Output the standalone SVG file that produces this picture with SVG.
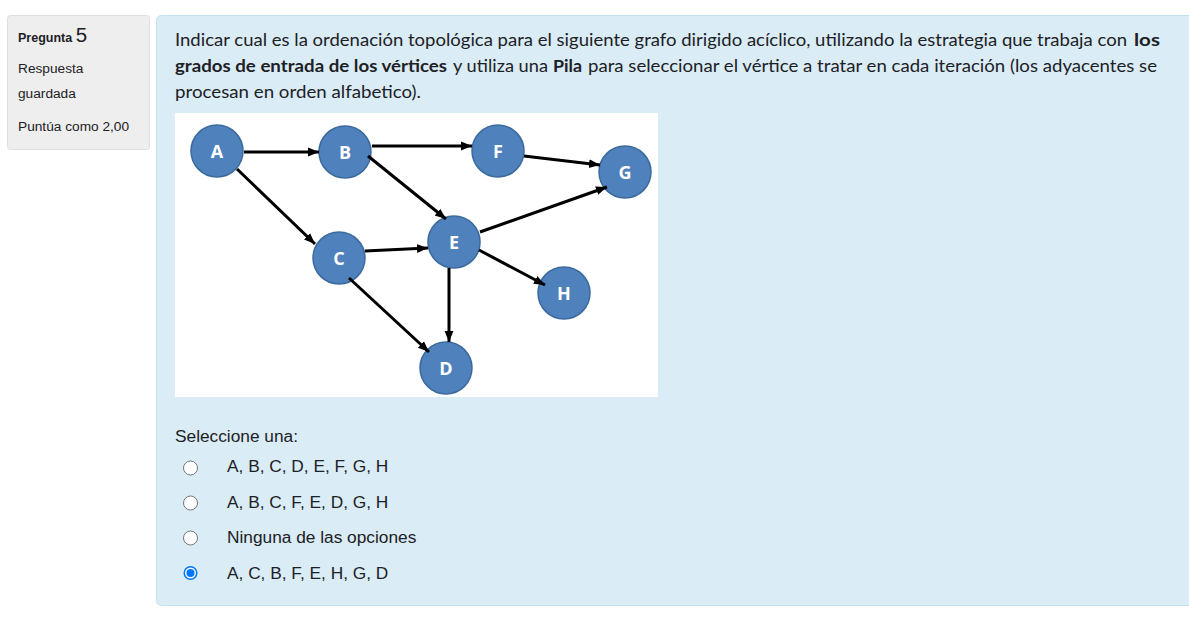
<svg xmlns="http://www.w3.org/2000/svg" width="1189" height="622" viewBox="0 0 1189 622">
<style>
.side{font-family:"Liberation Sans",Arial,sans-serif;font-size:13.7px;fill:#1d2125}
.q{font-family:Lato,"Open Sans",sans-serif;font-size:17.5px;fill:#1d2125}
.b{font-weight:bold}
.opt{font-family:"Liberation Sans",Arial,sans-serif;font-size:17.3px;fill:#1d2125}
.node circle{fill:#4f81bd;stroke:#3b6a9c;stroke-width:1.5}
.node text{font-family:"Open Sans","Liberation Sans",sans-serif;font-weight:bold;font-size:18px;fill:#ffffff;text-anchor:middle}
.edge{stroke:#000;stroke-width:3;fill:none;marker-end:url(#arr)}
.radio{fill:#fff;stroke:#767676;stroke-width:1}
</style>
<defs>
<marker id="arr" markerUnits="userSpaceOnUse" markerWidth="11" markerHeight="11" viewBox="0 0 10 10" refX="10" refY="5" orient="auto">
<path d="M0,1 L10,5 L0,9 Z" fill="#000"/>
</marker>
</defs>
<rect width="1189" height="622" fill="#ffffff"/>
<g id="info">
<rect x="7.5" y="15.5" width="142" height="134" rx="3" fill="#eeeeee" stroke="#dedede"/>
<text class="side" x="18" y="42"><tspan class="b" font-size="12.5">Pregunta </tspan><tspan font-size="20.5">5</tspan></text>
<text class="side" x="18" y="73">Respuesta</text>
<text class="side" x="18" y="98">guardada</text>
<text class="side" x="18" y="131">Puntúa como 2,00</text>
</g>
<g id="panel">
<rect x="156.5" y="15.5" width="1040" height="590" rx="5" fill="#daecf6" stroke="#c4e1ee"/>
<text class="q" x="175" y="46" textLength="952" lengthAdjust="spacingAndGlyphs">Indicar cual es la ordenación topológica para el siguiente grafo dirigido acíclico, utilizando la estrategia que trabaja con</text>
<text class="q b" x="1134" y="46" textLength="26" lengthAdjust="spacingAndGlyphs">los</text>
<text class="q b" x="175" y="72" textLength="272" lengthAdjust="spacingAndGlyphs">grados de entrada de los vértices</text>
<text class="q" x="453" y="72" textLength="95" lengthAdjust="spacingAndGlyphs">y utiliza una</text>
<text class="q b" x="553" y="72" textLength="29" lengthAdjust="spacingAndGlyphs">Pila</text>
<text class="q" x="588" y="72" textLength="569" lengthAdjust="spacingAndGlyphs">para seleccionar el vértice a tratar en cada iteración (los adyacentes se</text>
<text class="q" x="175" y="98" textLength="246" lengthAdjust="spacingAndGlyphs">procesan en orden alfabetico).</text>
<rect x="175" y="113" width="483" height="284" fill="#ffffff"/>
</g>
<g id="A" class="node"><circle cx="217" cy="151" r="26"/><text x="217" y="158">A</text></g>
<g id="B" class="node"><circle cx="345" cy="152" r="26"/><text x="345" y="159">B</text></g>
<g id="C" class="node"><circle cx="339" cy="258" r="26"/><text x="339" y="265">C</text></g>
<g id="D" class="node"><circle cx="446" cy="368" r="26"/><text x="446" y="375">D</text></g>
<g id="E" class="node"><circle cx="454" cy="242" r="26"/><text x="454" y="249">E</text></g>
<g id="F" class="node"><circle cx="498" cy="151" r="26"/><text x="498" y="158">F</text></g>
<g id="G" class="node"><circle cx="625" cy="172" r="26"/><text x="625" y="179">G</text></g>
<g id="H" class="node"><circle cx="564" cy="293" r="26"/><text x="564" y="300">H</text></g>
<g id="connectors">
<path class="edge" d="M244,152 L319,152"/>
<path class="edge" d="M372,146 L472,146"/>
<path class="edge" d="M524,156 L600,165"/>
<path class="edge" d="M368,156 L446,219"/>
<path class="edge" d="M237,169 L315,244"/>
<path class="edge" d="M365,251 L428,248"/>
<path class="edge" d="M480,232 L607,187"/>
<path class="edge" d="M479,250 L545,285"/>
<path class="edge" d="M449,268 L449,342"/>
<path class="edge" d="M349,278 L429,352"/>
</g>
<g id="options">
<text class="opt" x="175" y="442">Seleccione una:</text>
<circle class="radio" cx="190.5" cy="468" r="7"/>
<text class="opt" x="227" y="472">A, B, C, D, E, F, G, H</text>
<circle class="radio" cx="190.5" cy="503" r="7"/>
<text class="opt" x="227" y="508">A, B, C, F, E, D, G, H</text>
<circle class="radio" cx="190.5" cy="538" r="7"/>
<text class="opt" x="227" y="543">Ninguna de las opciones</text>
<circle cx="190.5" cy="573" r="7" fill="#0075ff"/>
<circle cx="190.5" cy="573" r="5.5" fill="#ffffff"/>
<circle cx="190.5" cy="573" r="4" fill="#0075ff"/>
<text class="opt" x="227" y="579">A, C, B, F, E, H, G, D</text>
</g>
</svg>
